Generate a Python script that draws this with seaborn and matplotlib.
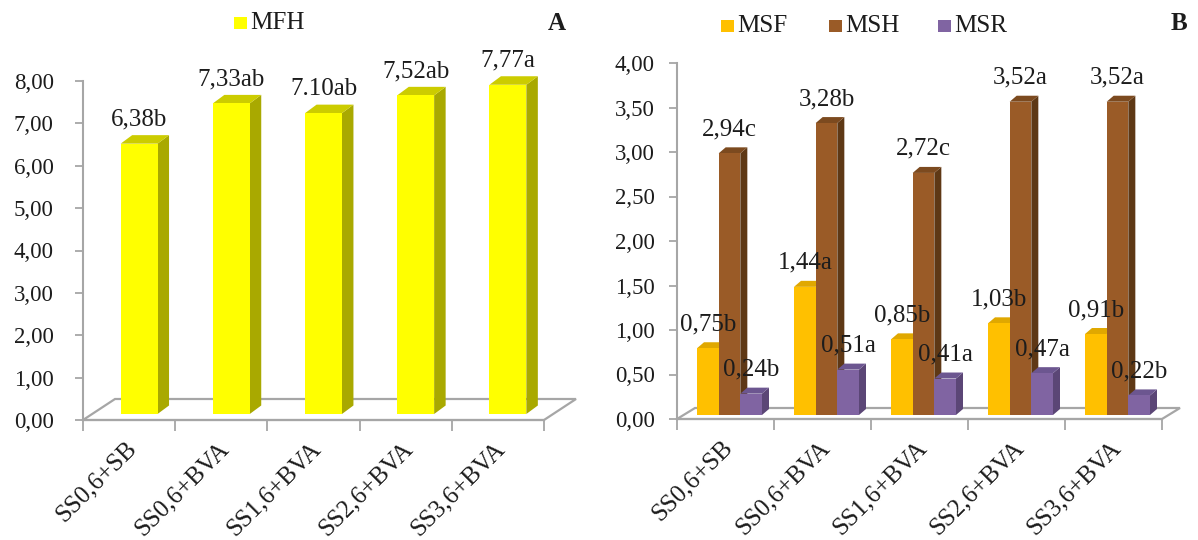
import numpy as np
import pandas as pd
import matplotlib
matplotlib.use("Agg")
import matplotlib.pyplot as plt
import seaborn as sns
from matplotlib import transforms
from matplotlib.patches import Polygon, Rectangle
from matplotlib.ticker import FuncFormatter

# ---- data ----
treatments = ["SS0,6+SB", "SS0,6+BVA", "SS1,6+BVA", "SS2,6+BVA", "SS3,6+BVA"]

mfh = [6.38, 7.33, 7.10, 7.52, 7.77]
mfh_labels = ["6,38b", "7,33ab", "7.10ab", "7,52ab", "7,77a"]

msf = [0.75, 1.44, 0.85, 1.03, 0.91]
msf_labels = ["0,75b", "1,44a", "0,85b", "1,03b", "0,91b"]
msh = [2.94, 3.28, 2.72, 3.52, 3.52]
msh_labels = ["2,94c", "3,28b", "2,72c", "3,52a", "3,52a"]
msr = [0.24, 0.51, 0.41, 0.47, 0.22]
msr_labels = ["0,24b", "0,51a", "0,41a", "0,47a", "0,22b"]

series_b = ["MSF", "MSH", "MSR"]

# ---- styling ----
W, H, DPI = 1198, 540, 100
TXT = "#1c1c1c"
AXC = "#a6a6a6"
front_col = {"MFH": "#ffff00", "MSF": "#ffc000", "MSH": "#9a5b27", "MSR": "#8064a2"}
side_col = {"MFH": "#a9a900", "MSF": "#b88a00", "MSH": "#5e3815", "MSR": "#5b4676"}
top_col = {"MFH": "#cccc00", "MSF": "#e0a800", "MSH": "#7c4a1f", "MSR": "#6c5690"}

sns.set_theme(style="white")
plt.rcParams["font.family"] = ["Liberation Serif", "DejaVu Serif"]
plt.rcParams["text.color"] = TXT
plt.rcParams["xtick.color"] = AXC
plt.rcParams["ytick.color"] = AXC
plt.rcParams["xtick.labelcolor"] = TXT
plt.rcParams["ytick.labelcolor"] = TXT

fig = plt.figure(figsize=(W / DPI, H / DPI), dpi=DPI)


def px_axes(l, r, y0, ytop):
    """Axes placed by pixel edges (left, right, value-0 row, top row)."""
    return fig.add_axes([l / W, 1 - y0 / H, (r - l) / W, (y0 - ytop) / H])


axA = px_axes(83, 544, 420, 81)
axB = px_axes(677, 1162, 419, 63)

dfA = pd.DataFrame({"Tratamiento": treatments, "MFH": mfh})
sns.barplot(data=dfA, x="Tratamiento", y="MFH", color=front_col["MFH"],
            saturation=1, width=0.40, edgecolor="none", ax=axA, zorder=3)

dfB = pd.DataFrame({"Tratamiento": treatments * 3,
                    "Serie": np.repeat(series_b, len(treatments)),
                    "Valor": msf + msh + msr})
sns.barplot(data=dfB, x="Tratamiento", y="Valor", hue="Serie",
            hue_order=series_b, palette=front_col, saturation=1, width=0.67,
            edgecolor="none", ax=axB, legend=False, zorder=3)

comma = FuncFormatter(lambda v, _: f"{v:.2f}".replace(".", ","))


def style_axes(ax, ymax, ystep, ypad):
    ax.set_xlim(-0.5, len(treatments) - 0.5)
    ax.set_ylim(0, ymax)
    ax.set_yticks(np.arange(0, ymax + 1e-9, ystep))
    ax.yaxis.set_major_formatter(comma)
    ax.set_xticks(np.arange(-0.5, len(treatments), 1.0))
    ax.set_xticklabels([])
    ax.set_xticks(range(len(treatments)), minor=True)
    ax.set_xticklabels(treatments, minor=True, rotation=45, ha="right",
                       va="center", rotation_mode="anchor", fontsize=18)
    ax.tick_params(axis="x", which="major", length=8, width=1.3, direction="out", bottom=True)
    ax.tick_params(axis="x", which="minor", length=0, pad=18, bottom=True)
    ax.tick_params(axis="y", which="major", length=6, width=1.3, direction="out",
                   left=True, pad=ypad, labelsize=16.5)
    ax.set_xlabel("")
    ax.set_ylabel("")
    for s in ["top", "right"]:
        ax.spines[s].set_visible(False)
    for s in ["left", "bottom"]:
        ax.spines[s].set_color(AXC)
        ax.spines[s].set_linewidth(1.5)
    ax.patch.set_alpha(0)
    # nudge the slanted category names a little to the right
    nudge = transforms.ScaledTranslation(4 / DPI, 0, fig.dpi_scale_trans)
    for lab in ax.get_xticklabels(minor=True):
        lab.set_transform(lab.get_transform() + nudge)


style_axes(axA, 8, 1, 15)
style_axes(axB, 4, 0.5, 10)


def draw_3d(ax, bar_shift, depth, floor_depth, names, labels):
    """Pseudo-3D bars: shift fronts onto the floor and add side/top faces."""
    bars = list(ax.patches)
    shift = transforms.ScaledTranslation(bar_shift[0] / DPI, bar_shift[1] / DPI,
                                         fig.dpi_scale_trans)
    trans = ax.transData + shift
    ident = transforms.IdentityTransform()

    # floor
    x0d, y0d = ax.transData.transform((ax.get_xlim()[0], 0))
    x1d, _ = ax.transData.transform((ax.get_xlim()[1], 0))
    fx, fy = floor_depth
    floor = Polygon([(x0d, y0d), (x1d, y0d), (x1d + fx, y0d + fy), (x0d + fx, y0d + fy)],
                    closed=True, facecolor="white", edgecolor=AXC, lw=1.6,
                    transform=ident, clip_on=False, zorder=1)
    ax.add_artist(floor)

    dx, dy = depth
    for i, p in enumerate(bars):
        p.set_transform(trans)
        p.set_clip_on(False)
        name = names[i]
        (ax0, ay0), (ax1, ay1) = trans.transform(
            [(p.get_x(), p.get_y()), (p.get_x() + p.get_width(), p.get_y() + p.get_height())])
        side = Polygon([(ax1, ay0), (ax1 + dx, ay0 + dy), (ax1 + dx, ay1 + dy), (ax1, ay1)],
                       closed=True, facecolor=side_col[name], edgecolor="none",
                       transform=ident, clip_on=False, zorder=2)
        top = Polygon([(ax0, ay1), (ax1, ay1), (ax1 + dx, ay1 + dy), (ax0 + dx, ay1 + dy)],
                      closed=True, facecolor=top_col[name], edgecolor="none",
                      transform=ident, clip_on=False, zorder=2)
        ax.add_artist(side)
        ax.add_artist(top)
        ax.annotate(labels[i], (p.get_x() + p.get_width() / 2, p.get_height()),
                    xycoords=trans, xytext=(0, 13), textcoords="offset points",
                    ha="center", va="baseline", fontsize=18, color=TXT,
                    zorder=5, annotation_clip=False)


draw_3d(axA, (10, 6), (11.5, 8.5), (32, 21), ["MFH"] * 5, mfh_labels)
draw_3d(axB, (4, 4), (7, 6), (18, 11),
        ["MSF"] * 5 + ["MSH"] * 5 + ["MSR"] * 5,
        msf_labels + msh_labels + msr_labels)


def legend_item(x, y, name):
    """Square swatch at pixel (x, y) = top-left, with the series name after it."""
    fig.add_artist(Rectangle((x / W, 1 - (y + 12) / H), 13 / W, 12 / H,
                             transform=fig.transFigure, facecolor=front_col[name],
                             edgecolor="none"))
    fig.text((x + 16) / W, 1 - (y + 6) / H, name, ha="left", va="center",
             fontsize=18, color=TXT)


legend_item(234, 17, "MFH")
legend_item(721, 20, "MSF")
legend_item(829, 20, "MSH")
legend_item(938, 20, "MSR")

fig.text(557 / W, 1 - 24 / H, "A", ha="center", va="center", fontsize=18,
         fontweight="bold", color=TXT)
fig.text(1179 / W, 1 - 24 / H, "B", ha="center", va="center", fontsize=18,
         fontweight="bold", color=TXT)

fig.savefig("out.png", dpi=DPI, facecolor="white")
